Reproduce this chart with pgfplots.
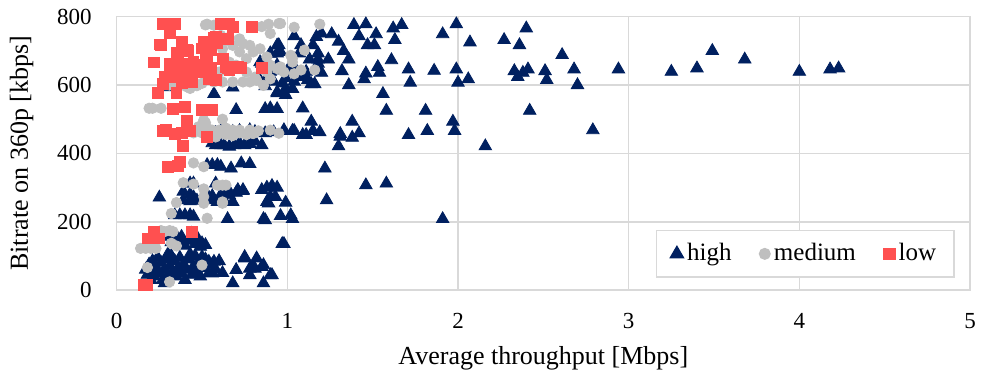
\documentclass[border=0pt]{standalone}
\usepackage{pgfplots}
\pgfplotsset{compat=1.18}
\usepackage{fontspec}
\setmainfont{Liberation Serif}
\definecolor{cHigh}{RGB}{0,32,96}
\definecolor{cMed}{RGB}{191,191,191}
\definecolor{cLow}{RGB}{255,80,80}
\definecolor{cGrid}{RGB}{217,217,217}
\begin{document}
\fontsize{11.5}{13.8}\selectfont
\begin{tikzpicture}
\begin{axis}[
  scale only axis, width=426.7pt, height=136.7pt,
  xmin=0, xmax=5, ymin=0, ymax=800,
  xtick={0,1,2,3,4,5}, ytick={0,200,400,600,800},
  /pgf/number format/assume math mode=true,
  grid=major, major grid style={draw=cGrid, line width=0.8pt},
  axis line style={draw=cGrid, line width=0.8pt},
  major tick length=0pt,
  xticklabel style={yshift=-7.5pt},
  yticklabel style={xshift=-8.5pt},
  xlabel={Average throughput [Mbps]},
  ylabel={Bitrate on 360p [kbps]},
  every axis x label/.style={at={(axis description cs:0.5,-0.25)}, anchor=center, font=\fontsize{13}{15.6}\selectfont},
  every axis y label/.style={at={(axis description cs:-0.1113,0.5)}, anchor=center, rotate=90, font=\fontsize{13}{15.6}\selectfont},
  legend columns=3,
  legend style={at={(axis description cs:0.9824,0.0439)}, anchor=south east,
    draw=cGrid, line width=0.8pt, inner xsep=7pt, inner ysep=4.5pt,
    font=\fontsize{12.5}{15}\selectfont,
    /tikz/every even column/.append style={column sep=12pt}},
  legend cell align=left,
  clip=false,
]
\addplot[only marks, mark=triangle*, mark size=3.6pt, color=cHigh, mark options={draw=cHigh, fill=cHigh}] coordinates {
(2.61,688)(2.68,646)(2.70,600)(2.79,468)(2.94,646)(3.25,639)(3.40,649)(3.49,700)(3.68,675)(4.00,639)(4.18,646)(4.23,649)
(1.39,776)(1.46,778)(1.62,766)(1.67,776)(1.99,778)(2.40,766)(1.04,743)(1.20,751)(1.26,749)(1.42,743)(1.52,749)(1.63,732)
(1.91,749)(2.27,732)(2.07,725)(2.36,717)(1.08,717)(1.15,717)(1.17,741)(1.30,727)(1.47,717)(1.51,717)(1.33,700)(1.07,693)
(1.13,675)(1.18,693)(1.18,675)(1.18,663)(1.24,675)(1.36,675)(1.61,673)(1.02,653)(1.04,653)(1.11,639)(1.20,636)(1.32,641)
(1.46,634)(1.45,617)(1.53,653)(1.54,636)(1.71,646)(1.86,642)(1.99,646)(2.06,617)(1.72,607)(2.00,607)(2.33,641)(2.35,624)
(2.38,636)(2.41,646)(2.51,641)(2.52,615)(1.04,610)(1.08,624)(1.12,615)(1.14,603)(1.16,603)(1.36,600)(0.99,590)(0.99,571)
(1.56,574)(1.09,532)(1.58,525)(1.81,525)(2.42,525)(1.14,493)(1.38,493)(1.97,493)(0.98,466)(1.03,466)(1.04,466)(1.09,454)
(1.11,454)(1.15,466)(1.19,462)(1.31,457)(1.31,449)(1.38,446)(1.42,459)(1.71,454)(1.82,466)(1.98,466)(1.30,421)(2.16,421)
(1.22,356)(1.46,307)(1.58,312)(0.99,256)(1.23,263)(1.02,219)(1.03,208)(0.96,217)(1.91,208)(0.98,135)
(0.95,717)(0.90,693)(0.94,693)(0.85,663)(0.90,639)(1.01,650)(1.08,630)(1.10,630)(0.94,576)(0.57,574)(0.68,593)(0.87,597)
(0.70,527)(0.87,530)(0.90,532)(0.94,530)(0.94,716)(0.90,692)(0.96,697)(0.84,667)(0.94,658)(0.96,643)(1.02,658)(1.03,638)
(1.03,589)(0.94,579)(0.98,579)(0.84,614)(0.28,594)(0.88,620)(0.92,610)(0.97,605)(0.99,620)
(0.61,465)(0.64,468)(0.68,463)(0.72,466)(0.78,468)(0.81,463)(0.87,459)(0.92,462)(0.98,468)(0.55,455)(0.58,460)
(0.58,424)(0.61,424)(0.63,424)(0.69,424)(0.75,424)(0.85,424)(0.56,430)(0.66,420)(0.72,430)(0.78,428)(0.81,435)
(0.53,366)(0.56,366)(0.59,366)(0.61,361)(0.67,356)(0.73,371)(0.78,369)
(0.25,271)(0.43,312)(0.45,312)(0.58,312)(0.63,288)(0.66,288)(0.71,293)(0.74,293)(0.85,293)(0.88,300)(0.91,305)(0.94,300)
(0.88,258)(0.93,273)(0.90,273)(0.39,288)(0.43,280)(0.45,272)(0.50,263)(0.39,263)(0.43,260)(0.47,262)(0.55,263)(0.59,258)
(0.63,262)(0.68,258)(0.53,280)(0.56,275)(0.60,270)(0.66,278)(0.70,285)(0.74,290)
(0.34,219)(0.37,219)(0.40,219)(0.43,219)(0.45,215)(0.65,208)(0.86,208)(0.87,205)(0.89,254)
(0.30,156)(0.32,140)(0.35,140)(0.38,156)(0.40,130)(0.43,156)(0.46,135)(0.49,127)(0.33,165)(0.42,145)(0.50,137)(0.52,132)
(0.36,150)(0.44,165)(0.47,155)(0.48,140)(0.97,135)
(0.75,93)(0.82,93)(0.80,68)(0.86,73)(0.70,59)(0.78,44)(0.90,44)(0.86,20)(0.68,20)(0.50,97)(0.54,83)(0.57,83)(0.56,49)
(0.75,97)(0.78,63)(0.81,63)(0.85,68)(0.91,44)
(0.17,60)(0.18,45)(0.19,75)(0.20,55)(0.21,85)(0.22,40)(0.23,65)(0.24,95)(0.25,50)(0.26,80)(0.27,30)(0.28,60)(0.29,90)
(0.30,45)(0.31,70)(0.32,100)(0.33,55)(0.34,85)(0.35,40)(0.36,65)(0.37,95)(0.38,50)(0.39,75)(0.40,30)(0.41,60)(0.42,90)
(0.44,45)(0.45,70)(0.46,100)(0.47,55)(0.48,80)(0.49,40)(0.51,65)(0.52,90)(0.54,50)(0.56,75)(0.58,60)(0.60,85)(0.62,50)
(0.28,20)(0.20,30)(0.43,105)(0.30,105)
};
\addlegendentry{high}
\addplot[only marks, mark=*, mark size=2.6pt, color=cMed, mark options={draw=cMed, fill=cMed}] coordinates {
(0.53,778)(0.85,771)(0.89,778)(0.95,780)(0.90,751)(0.57,775)(0.61,745)(0.66,740)(0.72,735)(0.68,716)(0.74,721)(0.78,716)
(0.80,697)(0.72,697)(0.76,677)(0.70,658)(0.66,667)(0.62,706)(0.84,706)(0.88,682)(0.90,658)(0.94,648)(0.98,638)(0.60,638)
(0.55,623)(0.57,609)(0.62,609)(0.68,609)(0.74,609)(0.78,609)(0.82,614)(0.86,599)(0.90,618)(1.02,687)(1.03,667)(1.04,633)
(0.88,638)(0.76,638)(0.81,623)(0.96,780)(1.04,769)(1.19,778)(1.10,702)(1.03,678)(0.96,653)(1.08,644)(1.16,644)
(0.29,604)(0.35,604)(0.41,595)(0.44,600)(0.43,590)(0.31,600)(0.47,598)(0.50,605)(0.52,776)
(0.19,532)(0.21,532)(0.26,532)
(0.52,490)(0.48,478)(0.53,474)(0.56,468)(0.60,468)(0.64,474)(0.68,468)(0.72,468)(0.78,468)(0.83,466)(0.90,468)(0.62,500)(0.51,497)
(0.50,460)(0.53,455)(0.56,452)(0.60,458)(0.64,455)(0.68,452)(0.72,460)(0.76,455)(0.80,458)(0.95,459)(0.45,460)(0.58,448)
(0.51,361)(0.45,372)(0.59,307)(0.62,307)(0.64,307)(0.39,314)(0.51,296)(0.51,273)(0.51,254)(0.62,254)(0.53,210)(0.35,256)
(0.32,224)(0.62,258)(0.26,174)(0.31,174)(0.28,171)(0.33,171)(0.14,122)(0.17,122)(0.20,122)(0.23,122)(0.32,137)(0.35,129)
(0.18,66)(0.50,73)(0.31,24)(0.45,310)
};
\addlegendentry{medium}
\addplot[only marks, mark=square*, mark size=2.7pt, color=cLow, mark options={draw=cLow, fill=cLow}] coordinates {
(0.27,780)(0.34,778)(0.31,753)(0.61,780)(0.66,780)(0.68,769)(0.79,769)(0.25,719)(0.38,727)(0.22,666)(0.35,693)(0.41,702)
(0.51,727)(0.57,737)(0.59,722)(0.65,734)(0.50,707)(0.55,702)(0.53,683)(0.45,668)(0.37,644)(0.32,653)(0.44,644)(0.50,649)
(0.55,649)(0.33,624)(0.40,615)(0.38,605)(0.43,610)(0.49,639)(0.65,649)(0.70,652)(0.73,649)(0.85,649)(0.62,678)(0.54,619)
(0.58,615)(0.66,644)(0.28,624)(0.41,624)(0.47,653)(0.31,663)(0.36,658)(0.27,603)(0.24,576)(0.35,576)(0.33,529)(0.40,535)
(0.50,527)(0.56,527)(0.41,495)(0.27,466)(0.29,468)(0.34,457)(0.38,460)(0.43,466)(0.53,449)(0.39,421)(0.30,361)(0.36,364)
(0.37,376)(0.22,171)(0.18,151)(0.21,151)(0.25,151)(0.44,171)(0.16,15)(0.18,15)
(0.58,740)(0.65,735)(0.53,716)(0.52,687)(0.51,658)(0.53,638)(0.62,677)(0.64,653)(0.68,653)(0.71,653)(0.26,718)(0.36,677)
(0.31,633)(0.39,628)(0.43,662)(0.46,643)(0.48,658)(0.42,701)(0.44,609)
};
\addlegendentry{low}
\coordinate (SW) at (rel axis cs:0,0);
\coordinate (NE) at (rel axis cs:1,1);
\end{axis}
\pgfresetboundingbox
\path[use as bounding box] ([xshift=-58.35pt,yshift=-45pt]SW) rectangle ([xshift=5.5pt,yshift=8.35pt]NE);
\end{tikzpicture}
\end{document}
